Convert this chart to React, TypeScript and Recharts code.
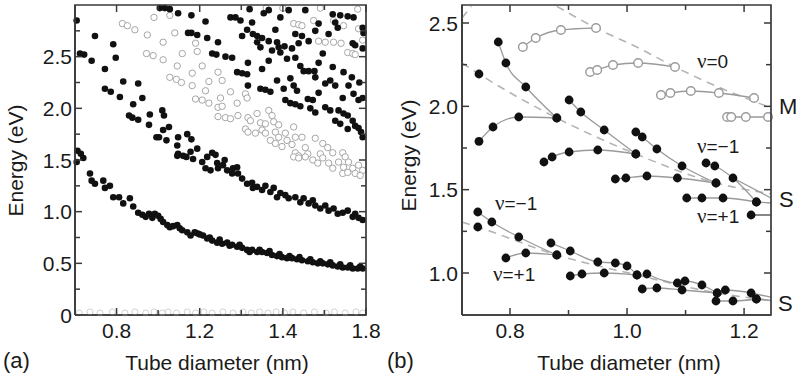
import React from "react";
import { ScatterChart, Scatter, XAxis, YAxis } from "recharts";

const FONT = "'Liberation Sans', Arial, sans-serif";
const INK = "#1a1a1a";
const TICK = "#3a3a3a";
const AXIS = { stroke: TICK, strokeWidth: 1.6 };

type P = [number, number];

// ---------- panel (a): x is the tick slot, labelled with the printed diameters ----------
const aXMajor = [1, 2, 3, 4];
const aXLabels = ["0.8", "1.2", "1.4", "1.8"];
const aXMinor = [1.5, 2.5, 3.5];
const aYMajor = [0, 0.5, 1, 1.5, 2, 2.5];
const aYLabels = ["0", "0.5", "1.0", "1.5", "2.0", "2.5"];
const aYMinor = [0.25, 0.75, 1.25, 1.75, 2.25, 2.75];

const aLowBand: P[] = [
  [0.53, 1.59], [0.57, 1.56], [0.6, 1.52], [0.52, 1.48], [0.68, 1.37], [0.7, 1.3], [0.74, 1.27],
  [0.84, 1.3], [0.86, 1.23], [0.92, 1.25], [0.96, 1.14], [1.03, 1.14], [1.08, 1.08], [1.16, 1.13],
  [1.2, 1.05], [1.26, 0.99], [1.31, 0.97], [1.35, 0.95], [1.39, 0.98], [1.43, 0.94], [1.46, 0.98],
  [1.5, 0.96], [1.53, 0.93], [1.56, 0.9], [1.61, 0.87], [1.64, 0.85], [1.68, 0.86], [1.73, 0.87],
  [1.76, 0.84], [1.79, 0.82], [1.85, 0.8], [1.89, 0.77], [1.94, 0.8], [1.97, 0.79], [2.0, 0.78],
  [2.04, 0.77], [2.09, 0.74], [2.12, 0.75], [2.15, 0.72], [2.21, 0.7], [2.24, 0.73], [2.27, 0.69],
  [2.33, 0.7], [2.36, 0.67], [2.39, 0.68], [2.45, 0.66], [2.48, 0.68], [2.51, 0.65], [2.57, 0.63],
  [2.6, 0.61], [2.63, 0.63], [2.69, 0.61], [2.72, 0.63], [2.75, 0.61], [2.81, 0.6], [2.84, 0.62],
  [2.87, 0.58], [2.93, 0.57], [2.96, 0.59], [2.99, 0.56], [3.05, 0.55], [3.08, 0.57], [3.11, 0.55],
  [3.17, 0.54], [3.2, 0.56], [3.23, 0.53], [3.3, 0.52], [3.33, 0.54], [3.36, 0.51], [3.42, 0.5],
  [3.45, 0.52], [3.48, 0.5], [3.54, 0.49], [3.57, 0.51], [3.6, 0.48], [3.66, 0.47], [3.69, 0.49],
  [3.72, 0.46], [3.78, 0.46], [3.81, 0.48], [3.84, 0.45], [3.9, 0.45], [3.93, 0.47], [3.96, 0.45],
];

const aMidBand: P[] = [
  [0.52, 2.85], [0.74, 2.7], [0.56, 2.53], [0.61, 2.52], [0.7, 2.46], [0.96, 2.62], [0.99, 2.49],
  [0.86, 2.38], [1.08, 2.26], [1.26, 2.24], [0.86, 2.19], [0.93, 2.16], [1.04, 2.11], [1.31, 2.1],
  [1.2, 2.04], [1.15, 1.93], [1.19, 1.91], [1.26, 1.89], [1.4, 1.94], [1.55, 1.98], [1.57, 1.93],
  [1.39, 1.84], [1.63, 1.82], [1.56, 1.79], [1.48, 1.72], [1.51, 1.72], [1.6, 1.69], [1.74, 1.72],
  [1.85, 1.75], [1.9, 1.7], [1.73, 1.64], [1.74, 1.56], [1.8, 1.54], [1.84, 1.53], [1.89, 1.58],
  [1.97, 1.61], [2.09, 1.53], [2.15, 1.57], [2.19, 1.55], [1.73, 1.54], [1.92, 1.51], [2.03, 1.48],
  [2.07, 1.42], [2.13, 1.4], [2.21, 1.47], [2.22, 1.42], [2.28, 1.45], [2.3, 1.5], [2.33, 1.4],
  [2.39, 1.37], [2.4, 1.42], [2.45, 1.43], [2.46, 1.37], [2.51, 1.32], [2.57, 1.27], [2.63, 1.28],
  [2.64, 1.23], [2.69, 1.24], [2.75, 1.21], [2.79, 1.25], [2.85, 1.19], [2.89, 1.23], [2.93, 1.14],
  [2.97, 1.18], [3.03, 1.16], [3.07, 1.13], [3.15, 1.14], [3.21, 1.09], [3.25, 1.13], [3.31, 1.08],
  [3.36, 1.11], [3.39, 1.06], [3.45, 1.03], [3.51, 1.06], [3.55, 1.01], [3.61, 1.03], [3.66, 0.98],
  [3.72, 0.99], [3.78, 1.01], [3.84, 0.95], [3.87, 0.98], [3.91, 0.94], [3.96, 0.92],
];

const aHighBand: P[] = [
  [1.52, 2.97], [1.58, 2.97], [1.64, 2.96], [1.74, 2.92], [1.9, 2.9], [2.07, 2.84], [1.86, 2.73],
  [1.9, 2.73], [1.97, 2.71], [2.09, 2.68], [2.22, 2.64], [2.15, 2.53], [2.2, 2.52], [2.31, 2.5],
  [2.39, 2.49], [2.37, 2.88], [2.43, 2.88], [2.49, 2.85], [2.6, 2.96], [2.63, 2.83], [2.57, 2.76],
  [2.64, 2.72], [2.69, 2.7], [2.51, 2.7], [2.75, 2.68], [2.83, 2.65], [2.69, 2.64], [2.73, 2.59],
  [2.87, 2.56], [2.77, 2.92], [2.83, 2.95], [2.91, 2.76], [2.97, 2.88], [2.93, 2.64], [2.95, 2.59],
  [2.97, 2.54], [3.02, 2.6], [3.05, 2.48], [3.07, 2.95], [3.11, 2.58], [3.19, 2.63], [3.15, 2.72],
  [3.23, 2.7], [3.27, 2.95], [3.31, 2.65], [3.39, 2.75], [3.43, 2.82], [3.55, 2.72], [2.58, 2.44],
  [2.83, 2.46], [2.45, 2.35], [2.51, 2.34], [2.57, 2.33], [2.75, 2.38], [2.58, 2.22], [2.73, 2.19],
  [2.79, 2.18], [2.85, 2.16], [2.93, 2.27], [3.01, 2.19], [3.09, 2.29], [3.15, 2.49], [3.21, 2.41],
  [3.25, 2.36], [3.31, 2.36], [3.38, 2.36], [3.39, 2.3], [3.43, 2.44], [3.48, 2.53], [3.13, 2.22],
  [3.17, 2.17], [3.03, 2.08], [3.09, 2.05], [3.15, 2.04], [3.21, 2.02], [3.3, 2.09], [3.36, 2.08],
  [3.51, 2.24], [3.57, 2.27], [3.63, 2.22], [3.6, 2.4], [3.43, 2.15], [3.33, 2.0], [3.39, 1.96],
  [3.51, 2.01], [3.57, 1.98], [3.73, 2.35], [3.79, 2.22], [3.83, 2.3], [3.85, 2.14], [3.91, 2.08],
  [3.92, 2.25], [3.96, 2.1], [3.72, 2.1], [3.67, 1.98], [3.73, 1.95], [3.63, 1.88], [3.69, 1.85],
  [3.78, 1.93], [3.84, 1.88], [3.87, 1.83], [3.91, 1.81], [3.94, 1.77], [3.96, 1.72], [3.78, 1.8],
  [3.6, 2.91], [3.69, 2.9], [3.78, 2.89], [3.85, 2.88], [3.63, 2.83], [3.66, 2.78], [3.96, 2.78],
  [3.97, 2.73], [3.84, 2.63], [3.87, 2.61], [3.96, 2.58],
];

const aOpenBand: P[] = [
  [1.07, 2.82], [1.13, 2.8], [1.22, 2.76], [1.45, 2.88], [1.64, 2.9], [1.37, 2.71], [1.7, 2.73],
  [1.56, 2.64], [1.36, 2.53], [1.44, 2.51], [1.56, 2.47], [1.79, 2.53], [1.95, 2.63], [1.97, 2.55],
  [1.73, 2.41], [2.03, 2.41], [1.91, 2.34], [1.64, 2.3], [1.72, 2.28], [1.78, 2.25], [1.91, 2.22],
  [2.11, 2.26], [2.22, 2.35], [2.07, 2.17], [1.95, 2.09], [2.03, 2.08], [2.11, 2.05], [2.22, 2.01],
  [2.22, 1.92], [2.27, 2.27], [2.37, 2.16], [2.25, 2.1], [2.27, 2.02], [2.45, 2.05], [2.55, 2.14],
  [2.57, 2.1], [2.31, 1.91], [2.37, 1.9], [2.46, 1.93], [2.58, 1.91], [2.61, 1.88], [2.69, 1.95],
  [2.83, 1.98], [2.87, 1.93], [2.73, 1.86], [2.79, 1.85], [2.89, 1.87], [2.95, 1.84], [2.55, 1.8],
  [2.58, 1.77], [2.67, 1.76], [2.75, 1.79], [2.79, 1.76], [2.91, 1.77], [2.95, 1.72], [3.03, 1.76],
  [3.13, 1.82], [2.85, 1.69], [2.91, 1.66], [2.99, 1.63], [3.05, 1.69], [3.11, 1.65], [3.15, 1.72],
  [3.23, 1.72], [3.15, 1.57], [3.19, 1.54], [3.27, 1.62], [3.3, 1.56], [3.39, 1.71], [3.48, 1.66],
  [3.54, 1.62], [3.6, 1.57], [3.45, 1.56], [3.72, 1.57], [3.75, 1.53], [3.13, 1.53], [3.19, 1.52],
  [3.27, 1.53], [3.36, 1.5], [3.42, 1.47], [3.48, 1.52], [3.55, 1.47], [3.6, 1.42], [3.67, 1.48],
  [3.73, 1.43], [3.79, 1.48], [3.84, 1.42], [3.87, 1.37], [3.91, 1.45], [3.96, 1.4], [3.93, 1.35],
  [3.72, 1.37], [3.78, 1.38], [3.13, 2.82], [3.19, 2.81], [3.23, 2.8], [3.37, 2.85], [3.61, 2.85],
  [3.73, 2.8], [3.91, 2.77], [3.43, 2.65], [3.51, 2.64], [3.61, 2.64], [3.7, 2.63], [3.78, 2.54],
  [3.84, 2.53], [3.87, 2.52], [3.96, 2.66], [2.8, 2.97], [3.0, 2.97], [3.45, 2.97], [3.9, 2.96],
];

const aZeroBand: P[] = [
  [0.55, 0.02], [0.68, 0.03], [0.8, 0.02], [0.95, 0.03], [1.1, 0.02], [1.22, 0.03], [1.35, 0.02],
  [1.45, 0.03], [1.55, 0.02], [1.62, 0.03], [1.72, 0.02], [1.85, 0.03], [1.95, 0.02], [2.05, 0.03],
  [2.15, 0.02], [2.28, 0.03], [2.4, 0.02], [2.52, 0.03], [2.62, 0.02], [2.72, 0.03], [2.82, 0.02],
  [2.92, 0.03], [3.02, 0.02], [3.12, 0.03], [3.25, 0.02], [3.38, 0.03], [3.52, 0.02], [3.62, 0.03],
  [3.75, 0.02], [3.88, 0.03], [3.96, 0.02],
];

// ---------- panel (b) ----------
const bXMajor = [0.8, 1.0, 1.2];
const bXLabels = ["0.8", "1.0", "1.2"];
const bXMinor = [0.9, 1.1];
const bYMajor = [1.0, 1.5, 2.0, 2.5];
const bYLabels = ["1.0", "1.5", "2.0", "2.5"];
const bYMinor = [1.25, 1.75, 2.25];

// metallic branches (open circles)
const bMetal: P[][] = [
  [[0.822, 2.356], [0.844, 2.41], [0.887, 2.458], [0.947, 2.47]],
  [[0.937, 2.206], [0.949, 2.218], [0.976, 2.248], [1.019, 2.26], [1.082, 2.236]],
  [[1.058, 2.068], [1.074, 2.08], [1.109, 2.092], [1.157, 2.08], [1.217, 2.05]],
  [[1.171, 1.936], [1.178, 1.936], [1.203, 1.936], [1.241, 1.936]],
];

// semiconducting branches, second band (filled)
const bSemi2: P[][] = [
  [[0.78, 2.386], [0.793, 2.26], [0.827, 2.116], [0.88, 1.93]],
  [[0.747, 1.79], [0.771, 1.876], [0.815, 1.936], [0.88, 1.93]],
  [[0.901, 2.038], [0.921, 1.966], [0.961, 1.858], [1.015, 1.714]],
  [[0.858, 1.666], [0.872, 1.696], [0.901, 1.726], [0.95, 1.738], [1.015, 1.714]],
  [[1.015, 1.846], [1.026, 1.816], [1.051, 1.744], [1.094, 1.642], [1.152, 1.54]],
  [[0.98, 1.564], [0.998, 1.57], [1.034, 1.582], [1.086, 1.57], [1.152, 1.54]],
  [[1.135, 1.66], [1.15, 1.642], [1.181, 1.57], [1.221, 1.426]],
  [[1.102, 1.45], [1.128, 1.45], [1.164, 1.45], [1.221, 1.426]],
  [[0.747, 2.194]],
  [[1.212, 1.348]],
];

// semiconducting branches, first band (filled)
const bSemi1: P[][] = [
  [[0.745, 1.366], [0.769, 1.306], [0.815, 1.216], [0.88, 1.108]],
  [[0.793, 1.09], [0.827, 1.12], [0.88, 1.108]],
  [[0.87, 1.18], [0.903, 1.132], [0.95, 1.066], [0.98, 1.06], [1.0, 1.042], [1.017, 0.988]],
  [[0.903, 0.982], [0.923, 0.994], [0.961, 1.0], [1.017, 0.988]],
  [[1.034, 0.994], [1.086, 0.94], [1.099, 0.952], [1.128, 0.928], [1.154, 0.88]],
  [[1.026, 0.904], [1.051, 0.91], [1.094, 0.898], [1.154, 0.88]],
  [[1.168, 0.898], [1.212, 0.88], [1.221, 0.844]],
  [[1.152, 0.832], [1.181, 0.832], [1.221, 0.844]],
  [[0.745, 1.276]],
];

// lines running out to the right frame
const bTails: P[][] = [
  [[1.221, 1.426], [1.246, 1.42]],
  [[1.181, 1.57], [1.246, 1.45]],
  [[1.212, 1.348], [1.246, 1.348]],
  [[1.221, 0.844], [1.246, 0.835]],
  [[1.212, 0.88], [1.246, 0.855]],
];

// dashed guide curves
const bGuides: P[][] = [
  [[0.718, 2.53], [0.734, 2.6]],
  [[0.88, 2.6], [0.947, 2.47], [1.02, 2.35], [1.082, 2.236], [1.16, 2.11], [1.217, 2.03], [1.246, 1.99]],
  [[0.718, 2.26], [0.747, 2.194], [0.88, 1.93], [1.015, 1.714], [1.152, 1.54], [1.246, 1.475]],
  [[0.718, 1.306], [0.745, 1.276], [0.88, 1.108], [1.017, 0.988], [1.154, 0.88], [1.246, 0.835]],
];

const pts = (a: P[]) => a.map(([x, y]) => ({ x, y }));

const filledDot = (r: number) => (p: any) =>
  p.cx == null ? <g /> : <circle cx={p.cx} cy={p.cy} r={r} fill="#111" />;
const openDot = (r: number, stroke: string, w: number) => (p: any) =>
  p.cx == null ? <g /> : <circle cx={p.cx} cy={p.cy} r={r} fill="#fff" stroke={stroke} strokeWidth={w} />;
const noDot = () => <g />;
const tickMark = (dx: number, dy: number) => (p: any) =>
  p.cx == null ? <g /> : <line x1={p.cx} y1={p.cy} x2={p.cx + dx} y2={p.cy + dy} stroke={TICK} strokeWidth={1.5} />;

function bottomLabel(majors: number[], labels: string[]) {
  return (props: any) => {
    const i = majors.findIndex((m) => Math.abs(m - props.payload.value) < 1e-6);
    return i >= 0 ? (
      <text x={props.x} y={props.y + 23} textAnchor="middle" fontSize={21} fontFamily={FONT} fill={INK}>
        {labels[i]}
      </text>
    ) : <g />;
  };
}
function leftLabel(majors: number[], labels: string[], pad: number) {
  return (props: any) => {
    const i = majors.findIndex((m) => Math.abs(m - props.payload.value) < 1e-6);
    return i >= 0 ? (
      <text x={props.x - pad} y={props.y + 7.5} textAnchor="end" fontSize={21} fontFamily={FONT} fill={INK}>
        {labels[i]}
      </text>
    ) : <g />;
  };
}

// frame box and inward tick marks, placed through the chart's own scales
function frameSeries(xd: number[], yd: number[], xMaj: number[], xMin: number[], yMaj: number[], yMin: number[]) {
  const [x0, x1] = xd;
  const [y0, y1] = yd;
  const box = [{ x: x0, y: y0 }, { x: x1, y: y0 }, { x: x1, y: y1 }, { x: x0, y: y1 }, { x: x0, y: y0 }];
  const sets: [any[], number, number][] = [
    [xMaj.map((x) => ({ x, y: y0 })), 0, -7],
    [xMin.map((x) => ({ x, y: y0 })), 0, -5],
    [xMaj.map((x) => ({ x, y: y1 })), 0, 7],
    [xMin.map((x) => ({ x, y: y1 })), 0, 5],
    [yMaj.map((y) => ({ x: x0, y })), 7, 0],
    [yMin.map((y) => ({ x: x0, y })), 5, 0],
    [yMaj.map((y) => ({ x: x1, y })), -7, 0],
    [yMin.map((y) => ({ x: x1, y })), -5, 0],
  ];
  return [
    <Scatter key="frame" data={box} shape={noDot} line={{ stroke: TICK, strokeWidth: 1.7 }} isAnimationActive={false} />,
    ...sets.map(([d, dx, dy], i) => (
      <Scatter key={`tk${i}`} data={d} shape={tickMark(dx, dy)} isAnimationActive={false} />
    )),
  ];
}

const sorted = (a: number[], b: number[]) => [...a, ...b].sort((p, q) => p - q);

function PanelA() {
  const xd: [number, number] = [0.5, 4];
  const yd: [number, number] = [0, 3];
  return (
    <ScatterChart width={400} height={375} margin={{ top: 5, right: 34, bottom: 0, left: 15 }}>
      <XAxis type="number" dataKey="x" domain={xd} ticks={sorted(aXMajor, aXMinor)} interval={0} height={60}
        tickSize={0} tickMargin={0} tickLine={false} axisLine={AXIS} tick={bottomLabel(aXMajor, aXLabels)} />
      <YAxis type="number" dataKey="y" domain={yd} ticks={sorted(aYMajor, aYMinor)} interval={0} width={60}
        tickSize={0} tickMargin={0} tickLine={false} axisLine={AXIS} tick={leftLabel(aYMajor, aYLabels, 3)} />
      <Scatter data={pts(aZeroBand)} shape={openDot(3, "#d2d2d2", 1)} isAnimationActive={false} />
      <Scatter data={pts(aOpenBand)} shape={openDot(3.2, "#a6a6a6", 1)} isAnimationActive={false} />
      <Scatter data={pts(aHighBand)} shape={filledDot(3.3)} isAnimationActive={false} />
      <Scatter data={pts(aMidBand)} shape={filledDot(3.3)} isAnimationActive={false} />
      <Scatter data={pts(aLowBand)} shape={filledDot(3.3)} isAnimationActive={false} />
      {frameSeries(xd, yd, aXMajor, aXMinor, aYMajor, aYMinor)}
    </ScatterChart>
  );
}

function PanelB() {
  const xd: [number, number] = [0.718, 1.246];
  const yd: [number, number] = [0.748, 2.608];
  const branchLine = { stroke: "#9a9a9a", strokeWidth: 1.3 };
  return (
    <ScatterChart width={398} height={375} margin={{ top: 5, right: 27, bottom: 0, left: 2 }}>
      <XAxis type="number" dataKey="x" domain={xd} ticks={sorted(bXMajor, bXMinor)} interval={0} height={60}
        tickSize={0} tickMargin={0} tickLine={false} axisLine={AXIS} tick={bottomLabel(bXMajor, bXLabels)} />
      <YAxis type="number" dataKey="y" domain={yd} ticks={sorted(bYMajor, bYMinor)} interval={0} width={60}
        tickSize={0} tickMargin={0} tickLine={false} axisLine={AXIS} tick={leftLabel(bYMajor, bYLabels, 4)} />
      {bGuides.map((g, i) => (
        <Scatter key={`g${i}`} data={pts(g)} shape={noDot} line={{ stroke: "#b4b4b4", strokeWidth: 1.6, strokeDasharray: "8 6" }}
          lineJointType="monotoneX" isAnimationActive={false} />
      ))}
      {bTails.map((g, i) => (
        <Scatter key={`t${i}`} data={pts(g)} shape={noDot} line={{ stroke: i === 2 ? "#555" : "#9a9a9a", strokeWidth: 1.4 }}
          isAnimationActive={false} />
      ))}
      {bMetal.map((g, i) => (
        <Scatter key={`m${i}`} data={pts(g)} shape={openDot(4.3, "#9a9a9a", 1.4)} line={branchLine}
          lineJointType="monotoneX" isAnimationActive={false} />
      ))}
      {bSemi2.map((g, i) => (
        <Scatter key={`s2${i}`} data={pts(g)} shape={filledDot(4.4)} line={g.length > 1 ? branchLine : false}
          lineJointType="monotoneX" isAnimationActive={false} />
      ))}
      {bSemi1.map((g, i) => (
        <Scatter key={`s1${i}`} data={pts(g)} shape={filledDot(4.4)} line={g.length > 1 ? branchLine : false}
          lineJointType="monotoneX" isAnimationActive={false} />
      ))}
      {frameSeries(xd, yd, bXMajor, bXMinor, bYMajor, bYMinor)}
    </ScatterChart>
  );
}

// HTML text labels (no overlay svg)
const Label = ({ left, top, size, children }: { left: number; top: number; size: number; children: React.ReactNode }) => (
  <div style={{ position: "absolute", left, top, fontSize: size, lineHeight: "21px", fontFamily: FONT, color: INK, whiteSpace: "nowrap" }}>
    {children}
  </div>
);
const Nu = ({ left, base, rest }: { left: number; base: number; rest: string }) => (
  <Label left={left} top={base - 17} size={19}>
    <span style={{ fontFamily: "'Liberation Serif', serif", fontSize: 21 }}>ν</span>
    {rest}
  </Label>
);
const Title = ({ cx, base, children }: { cx: number; base: number; children: React.ReactNode }) => (
  <div style={{ position: "absolute", left: cx - 150, width: 300, top: base - 18, textAlign: "center", fontSize: 21,
    lineHeight: "21px", fontFamily: FONT, color: INK, whiteSpace: "nowrap" }}>
    {children}
  </div>
);
const VTitle = ({ cx, cy, children }: { cx: number; cy: number; children: React.ReactNode }) => (
  <div style={{ position: "absolute", left: cx - 100, top: cy - 10.5, width: 200, height: 21, textAlign: "center", fontSize: 21,
    lineHeight: "21px", fontFamily: FONT, color: INK, whiteSpace: "nowrap", transform: "rotate(-90deg)" }}>
    {children}
  </div>
);

export default function App() {
  return (
    <div style={{ position: "absolute", left: 0, top: 0, width: 798, height: 375, background: "#fff", overflow: "hidden" }}>
      <div style={{ position: "absolute", left: 0, top: 0 }}>
        <PanelA />
      </div>
      <div style={{ position: "absolute", left: 400, top: 0 }}>
        <PanelB />
      </div>
      <Label left={3} top={350} size={22}>(a)</Label>
      <Label left={387} top={350} size={22}>(b)</Label>
      <Title cx={217} base={370}>Tube diameter (nm)</Title>
      <Title cx={629} base={370}>Tube diameter (nm)</Title>
      <VTitle cx={15} cy={160}>Energy (eV)</VTitle>
      <VTitle cx={408} cy={155}>Energy (eV)</VTitle>
      <Nu left={697} base={68} rest="=0" />
      <Nu left={697} base={153} rest="=−1" />
      <Nu left={697} base={223} rest="=+1" />
      <Nu left={495} base={210} rest="=−1" />
      <Nu left={493} base={281} rest="=+1" />
      <Label left={779} top={96} size={22}>M</Label>
      <Label left={779} top={189} size={22}>S</Label>
      <Label left={778} top={293} size={22}>S</Label>
    </div>
  );
}
